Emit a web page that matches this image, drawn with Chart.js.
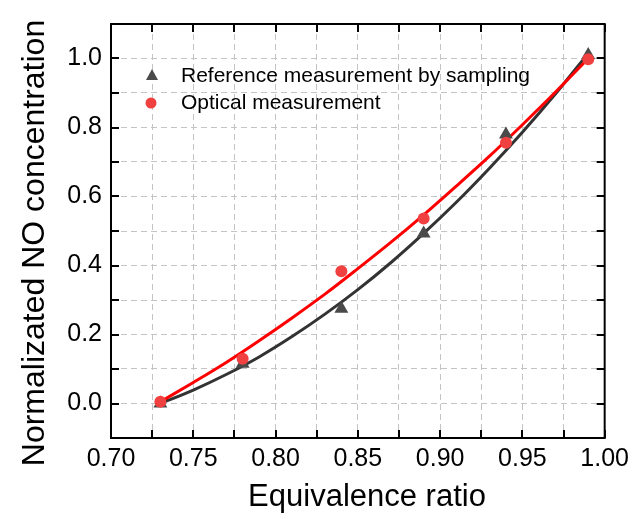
<!DOCTYPE html>
<html>
<head>
<meta charset="utf-8">
<script src="https://cdn.jsdelivr.net/npm/chart.js@4.4.1/dist/chart.umd.min.js"></script>
<style>
  html, body { margin: 0; padding: 0; background: #fff; }
  #wrap { width: 635px; height: 519px; position: relative; }
</style>
</head>
<body>
<div id="wrap"><canvas id="chart" width="635" height="519"></canvas></div>
<script>
// measured points
const ratios = [0.73, 0.78, 0.84, 0.89, 0.94, 0.99];
const referenceValues = [0.0, 0.115, 0.275, 0.493, 0.78, 1.01];
const opticalValues = [0.005, 0.13, 0.383, 0.536, 0.756, 0.998];

// fitted curves
const fitRatios = [0.73, 0.75, 0.77, 0.79, 0.81, 0.83, 0.85, 0.87, 0.89, 0.91, 0.93, 0.95, 0.97, 0.99];
const referenceFit = [0.0, 0.039, 0.084, 0.135, 0.194, 0.259, 0.330, 0.408, 0.493, 0.584, 0.682, 0.786, 0.897, 1.015];
const opticalFit = [0.005, 0.061, 0.119, 0.182, 0.248, 0.317, 0.391, 0.467, 0.547, 0.631, 0.717, 0.808, 0.902, 1.0];

const legendLabels = ['Reference measurement by sampling', 'Optical measurement'];
const xTitle = 'Equivalence ratio';
const yTitle = 'Normalizated NO concentration';
const xLabels = ['0.70', '0.75', '0.80', '0.85', '0.90', '0.95', '1.00'];
const yLabels = ['0.0', '0.2', '0.4', '0.6', '0.8', '1.0'];

const toPoints = (xs, ys) => xs.map((x, i) => ({x: x, y: ys[i]}));
const font = 'Arial, "Liberation Sans", sans-serif';

// frame, inward ticks, axis titles and legend drawn over the chart
const framePlugin = {
    id: 'frame',
    afterDraw(chart) {
        const ctx = chart.ctx;
        const a = chart.chartArea;
        const xs = chart.scales.x, ys = chart.scales.y;
        ctx.save();
        ctx.strokeStyle = '#000';
        ctx.lineWidth = 2;
        ctx.beginPath();
        xs.ticks.forEach(t => {
            const px = Math.round(xs.getPixelForValue(t.value));
            ctx.moveTo(px, a.bottom); ctx.lineTo(px, a.bottom - 8);
            ctx.moveTo(px, a.top); ctx.lineTo(px, a.top + 8);
        });
        ys.ticks.forEach(t => {
            const py = Math.round(ys.getPixelForValue(t.value));
            ctx.moveTo(a.left, py); ctx.lineTo(a.left + 8, py);
            ctx.moveTo(a.right, py); ctx.lineTo(a.right - 8, py);
        });
        ctx.stroke();
        ctx.strokeRect(a.left, a.top, a.right - a.left, a.bottom - a.top);

        // axis titles
        ctx.fillStyle = '#000';
        ctx.textAlign = 'center';
        ctx.textBaseline = 'middle';
        ctx.font = '31px ' + font;
        ctx.fillText(xTitle, 367, 497);
        ctx.save();
        ctx.translate(35, 243);
        ctx.rotate(-Math.PI / 2);
        ctx.font = '32px ' + font;
        ctx.fillText(yTitle, 0, 0);
        ctx.restore();

        // legend
        ctx.textAlign = 'left';
        ctx.font = '21px ' + font;
        ctx.fillText(legendLabels[0], a.left + 70, 76);
        ctx.fillText(legendLabels[1], a.left + 70, 103);
        ctx.fillStyle = '#4a4a4a';
        ctx.beginPath();
        ctx.moveTo(a.left + 41, 69); ctx.lineTo(a.left + 47, 80); ctx.lineTo(a.left + 35, 80);
        ctx.closePath(); ctx.fill();
        ctx.fillStyle = '#f04040';
        ctx.beginPath();
        ctx.arc(a.left + 40, 103, 5.5, 0, Math.PI * 2);
        ctx.fill();
        ctx.restore();
    }
};

new Chart(document.getElementById('chart'), {
    type: 'scatter',
    data: {
        datasets: [
            {
                label: legendLabels[1],
                data: toPoints(ratios, opticalValues),
                pointStyle: 'circle',
                pointRadius: 6,
                backgroundColor: '#f04040',
                borderColor: '#f04040',
                borderWidth: 0,
                order: 0
            },
            {
                label: legendLabels[0],
                data: toPoints(ratios, referenceValues),
                pointStyle: 'triangle',
                pointRadius: 8,
                backgroundColor: '#4a4a4a',
                borderColor: '#4a4a4a',
                borderWidth: 0,
                order: 1
            },
            {
                label: 'optical fit',
                type: 'line',
                data: toPoints(fitRatios, opticalFit),
                borderColor: '#ff0000',
                borderWidth: 3,
                pointRadius: 0,
                cubicInterpolationMode: 'monotone',
                fill: false,
                order: 2
            },
            {
                label: 'reference fit',
                type: 'line',
                data: toPoints(fitRatios, referenceFit),
                borderColor: '#333333',
                borderWidth: 3,
                pointRadius: 0,
                cubicInterpolationMode: 'monotone',
                fill: false,
                order: 3
            }
        ]
    },
    options: {
        responsive: false,
        animation: false,
        layout: { padding: { top: 20, right: 27, left: 0, bottom: 0 } },
        plugins: {
            legend: { display: false },
            tooltip: { enabled: false }
        },
        scales: {
            x: {
                type: 'linear',
                min: 0.70,
                max: 1.00,
                afterFit: s => { s.height = 81; },
                ticks: {
                    stepSize: 0.025,
                    autoSkip: false,
                    maxRotation: 0,
                    padding: 6,
                    color: '#000',
                    font: { family: font, size: 25 },
                    callback: v => {
                        const s = v.toFixed(2);
                        return xLabels.includes(s) && Math.abs(v * 40 - Math.round(v * 40)) < 1e-6 && Math.round(v * 40) % 2 === 0 ? s : '';
                    }
                },
                grid: { color: '#c4c4c4', lineWidth: 1, drawTicks: false },
                border: { display: false, dash: [6, 4] }
            },
            y: {
                min: -0.1,
                max: 1.1,
                afterFit: s => { s.width = 111; },
                ticks: {
                    stepSize: 0.1,
                    autoSkip: false,
                    padding: 9,
                    color: '#000',
                    font: { family: font, size: 25 },
                    callback: v => {
                        const s = v.toFixed(1);
                        return yLabels.includes(s) && Math.round(v * 10) % 2 === 0 ? s : '';
                    }
                },
                grid: { color: '#c4c4c4', lineWidth: 1, drawTicks: false },
                border: { display: false, dash: [6, 4] }
            }
        }
    },
    plugins: [framePlugin]
});
</script>
</body>
</html>
